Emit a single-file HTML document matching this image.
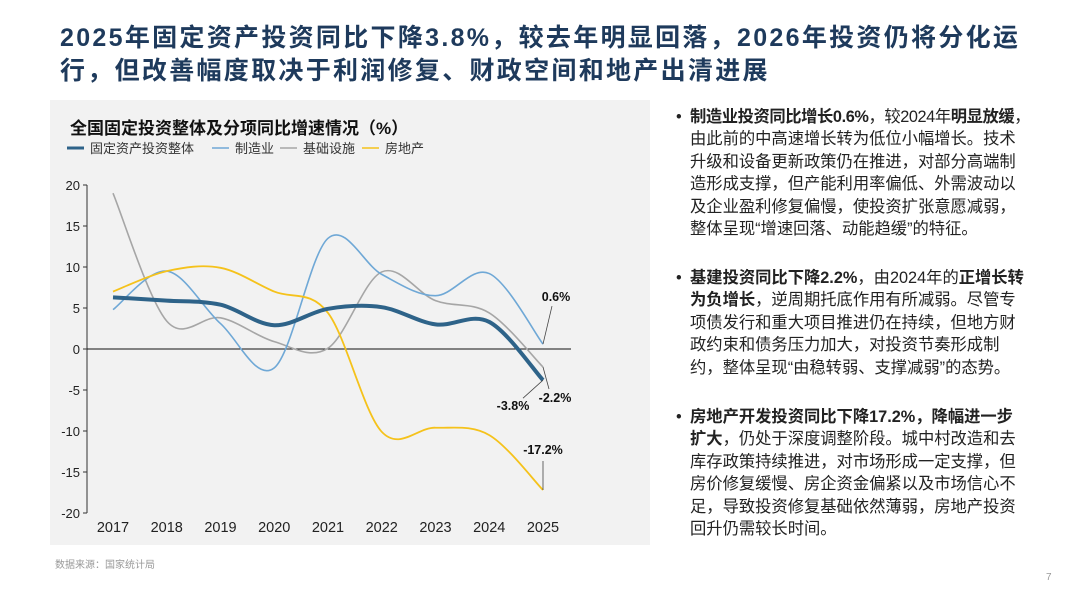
<!DOCTYPE html>
<html><head><meta charset="utf-8"><style>
body{margin:0;width:1080px;height:607px;background:#fff;font-family:"Liberation Sans","Noto Sans CJK SC",sans-serif;position:relative;overflow:hidden}
.title{position:absolute;left:60px;top:22px;width:965px;font-size:25px;letter-spacing:2.3px;font-weight:bold;color:#1e3a5c;line-height:33px}
.panel{position:absolute;left:50px;top:100px;width:600px;height:445px;background:#f2f2f2}
.ct{position:absolute;left:70px;top:114px;font-size:17px;font-weight:bold;color:#111}
.src{position:absolute;left:55px;top:556px;font-size:10px;color:#999}
.pg{position:absolute;left:1046px;top:572px;font-size:10px;color:#999}
.txt{position:absolute;left:676px;width:352px;font-size:16.3px;line-height:22.4px;color:#222}
.txt p{margin:0;padding-left:14px;position:relative}
.txt p:before{content:"•";position:absolute;left:0;top:0}
</style></head><body>
<div class="title">2025年固定资产投资同比下降3.8%，较去年明显回落，2026年投资仍将分化运行，但改善幅度取决于利润修复、财政空间和地产出清进展</div>
<div class="panel"></div>
<div class="ct">全国固定投资整体及分项同比增速情况（%）</div>
<svg id="chart" width="1080" height="607" style="position:absolute;left:0;top:0"></svg>
<div class="src">数据来源：国家统计局</div>
<div class="pg">7</div>
<div class="txt" style="top:106px;width:380px;white-space:nowrap"><p><span style="letter-spacing:-0.4px"><b>制造业投资同比增长0.6%</b>，较2024年<b>明显放缓</b>，</span><br>由此前的中高速增长转为低位小幅增长。技术<br>升级和设备更新政策仍在推进，对部分高端制<br>造形成支撑，但产能利用率偏低、外需波动以<br>及企业盈利修复偏慢，使投资扩张意愿减弱，<br>整体呈现“增速回落、动能趋缓”的特征。</p></div>
<div class="txt" style="top:267px"><p><b>基建投资同比下降2.2%</b>，由2024年的<b>正增长转为负增长</b>，逆周期托底作用有所减弱。尽管专项债发行和重大项目推进仍在持续，但地方财政约束和债务压力加大，对投资节奏形成制约，整体呈现“由稳转弱、支撑减弱”的态势。</p></div>
<div class="txt" style="top:406px"><p><b>房地产开发投资同比下降17.2%，降幅进一步扩大</b>，仍处于深度调整阶段。城中村改造和去库存政策持续推进，对市场形成一定支撑，但房价修复缓慢、房企资金偏紧以及市场信心不足，导致投资修复基础依然薄弱，房地产投资回升仍需较长时间。</p></div>
<script>
const years=["2017","2018","2019","2020","2021","2022","2023","2024","2025"];
const total=[6.3,5.9,5.4,2.9,4.9,5.1,3.0,3.3,-3.8];
const manuf=[4.8,9.5,3.1,-2.3,13.5,9.1,6.5,9.2,0.6];
const infra=[19.0,3.4,3.8,0.9,0.1,9.4,5.9,4.4,-2.2];
const estate=[7.0,9.5,9.9,7.0,4.4,-10.1,-9.6,-10.5,-17.2];
const yTicks=[20,15,10,5,0,-5,-10,-15,-20];
const NS="http://www.w3.org/2000/svg";
const svg=document.getElementById('chart');
const X=i=>113+i*53.75, Y=v=>349-v*8.2;
function mk(t,a){const e=document.createElementNS(NS,t);for(const k in a)e.setAttribute(k,a[k]);svg.appendChild(e);return e;}
let ax=mk('line',{x1:87,y1:Y(20),x2:87,y2:Y(-20),stroke:'#333','stroke-width':1});


yTicks.forEach(v=>{
 let t=mk('line',{x1:83,x2:87,y1:Y(v),y2:Y(v),stroke:'#333'});
 
 
 let l=mk('text',{x:80,y:Y(v)+5,'text-anchor':'end','font-size':13,fill:'#222'});l.textContent=v;
 
 
});
let z=mk('line',{x1:87,x2:571,y1:Y(0),y2:Y(0),stroke:'#111','stroke-width':1});


years.forEach((y,i)=>{let l=mk('text',{x:X(i),y:532,'text-anchor':'middle','font-size':14.5,fill:'#222'});l.textContent=y;
 
 });
function path(d){const p=d.map((v,i)=>[X(i),Y(v)]);let s=`M${p[0][0]},${p[0][1]}`;
 for(let i=0;i<p.length-1;i++){const p0=p[i-1]||p[i],p1=p[i],p2=p[i+1],p3=p[i+2]||p2;
 s+=` C${p1[0]+(p2[0]-p0[0])/6},${p1[1]+(p2[1]-p0[1])/6} ${p2[0]-(p3[0]-p1[0])/6},${p2[1]-(p3[1]-p1[1])/6} ${p2[0]},${p2[1]}`;}return s;}
const series=[[infra,'#a6a6a6',1.6,'series-infrastructure'],[manuf,'#6fa8d6',1.6,'series-manufacturing'],[estate,'#f5c21b',1.8,'series-real-estate'],[total,'#2e6389',4,'series-total']];
series.forEach(s=>{let p=mk('path',{d:path(s[0]),fill:'none',stroke:s[1],'stroke-width':s[2]});
 
 });
const L=8;
function lab(txt,x,y,lx1,ly1,lx2,ly2){mk('line',{x1:lx1,y1:ly1,x2:lx2,y2:ly2,stroke:'#444','stroke-width':0.8});
 let t=mk('text',{x:x,y:y,'text-anchor':'middle','font-size':12.5,'font-weight':'bold',fill:'#111'});t.textContent=txt;
 
 }
lab(manuf[L].toFixed(1)+'%',X(L)+13,Y(manuf[L])-43,X(L),Y(manuf[L]),X(L)+9,Y(manuf[L])-38);
lab(infra[L].toFixed(1)+'%',X(L)+12,Y(infra[L])+35,X(L),Y(infra[L]),X(L)+6,Y(infra[L])+22);
lab(total[L].toFixed(1)+'%',X(L)-30,Y(total[L])+30,X(L),Y(total[L]),X(L)-20,Y(total[L])+18);
lab(estate[L].toFixed(1)+'%',X(L),Y(estate[L])-36,X(L),Y(estate[L]),X(L),Y(estate[L])-29);
const leg=[['固定资产投资整体','#2e6389',3,67],['制造业','#6fa8d6',1.5,212],['基础设施','#a6a6a6',1.5,280],['房地产','#f5c21b',1.5,362]];
leg.forEach(g=>{let l=mk('line',{x1:g[3],x2:g[3]+17,y1:148,y2:148,stroke:g[1],'stroke-width':g[2]});
 
 
 let t=mk('text',{x:g[3]+23,y:153,'font-size':13,fill:'#333'});t.textContent=g[0];
 
 });
</script>
</body></html>
